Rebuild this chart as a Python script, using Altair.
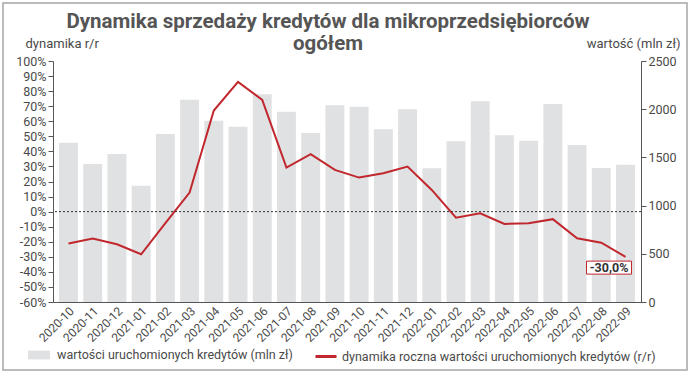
import altair as alt
import pandas as pd

months = ["2020-10", "2020-11", "2020-12", "2021-01", "2021-02", "2021-03",
          "2021-04", "2021-05", "2021-06", "2021-07", "2021-08", "2021-09",
          "2021-10", "2021-11", "2021-12", "2022-01", "2022-02", "2022-03",
          "2022-04", "2022-05", "2022-06", "2022-07", "2022-08", "2022-09"]
values = [1652, 1431, 1535, 1206, 1743, 2099, 1881, 1819, 2154, 1974, 1753, 2040,
          2026, 1791, 1999, 1387, 1667, 2082, 1729, 1673, 2054, 1629, 1390, 1424]
dynamics = [-21.2, -17.9, -21.7, -28.3, -7.7, 12.6, 67.1, 86.1, 74.2, 29.2, 38.1, 27.7,
            22.6, 25.5, 29.9, 14.4, -4.0, -1.1, -8.2, -7.7, -5.0, -17.7, -20.6, -30.0]
left_ticks = list(range(-60, 101, 10))
right_ticks = [0, 500, 1000, 1500, 2000, 2500]

bar_name = "wartości uruchomionych kredytów (mln zł)"
line_name = "dynamika roczna wartości uruchomionych kredytów (r/r)"
title_lines = ["Dynamika sprzedaży kredytów dla mikroprzedsiębiorców", "ogółem"]
left_title = "dynamika r/r"
right_title = "wartość (mln zł)"
last_label = "-30,0%"

FONT = "Roboto"
TXT = "#4a4a4a"
AX = "#555555"
BAR = "#dfe1e2"
RED = "#c1272d"

df = pd.DataFrame({"month": months, "value": values, "dyn": dynamics})
df["bar_series"] = bar_name
df["line_series"] = line_name
df_last = pd.DataFrame({"month": [months[-1]], "dyn": [dynamics[-1]], "label": [last_label]})
df_zero = pd.DataFrame({"dyn": [0]})
df_one = pd.DataFrame({"a": [0]})

x_enc = alt.X(
    "month:N", sort=months,
    scale=alt.Scale(paddingInner=0.22, paddingOuter=0.25),
    axis=alt.Axis(title=None, labelAngle=-45, ticks=False, domainColor=AX,
                  labelFontSize=12, labelColor=TXT, labelPadding=3),
)

y_left = alt.Y(
    "dyn:Q", scale=alt.Scale(domain=[-60, 100], nice=False),
    axis=alt.Axis(orient="left", values=left_ticks, labelExpr="datum.value + '%'",
                  labelOverlap=False, tickCount=17,
                  title=left_title, titleAngle=0, titleX=-28, titleY=-14,
                  titleAlign="left", titleBaseline="alphabetic"),
)

bars = alt.Chart(df).mark_bar().encode(
    x=x_enc,
    y=alt.Y("value:Q", scale=alt.Scale(domain=[0, 2500], nice=False),
            axis=alt.Axis(orient="right", values=right_ticks, format="d", title=right_title,
                          titleAngle=0, titleX=39, titleY=-14, titleAlign="right",
                          titleBaseline="alphabetic", labelOverlap=False)),
    fill=alt.Fill("bar_series:N", scale=alt.Scale(range=[BAR]),
                  legend=alt.Legend(orient="none", legendX=-25, legendY=283, title=None,
                                    symbolType="M-1,-0.4L1,-0.4L1,0.4L-1,0.4Z",
                                    symbolSize=484, symbolStrokeWidth=0,
                                    labelOffset=7, padding=0, labelFontSize=12.5,
                                    labelColor=TXT, labelFont=FONT, labelLimit=400)),
)

line = alt.Chart(df).mark_line(strokeWidth=2).encode(
    x=x_enc,
    y=y_left,
    stroke=alt.Stroke("line_series:N", scale=alt.Scale(range=[RED]),
                      legend=alt.Legend(orient="none", legendX=261, legendY=283.5, title=None,
                                        symbolType="stroke", symbolSize=441,
                                        symbolStrokeWidth=3, labelOffset=4, padding=0,
                                        labelFontSize=12.5, labelColor=TXT, labelFont=FONT,
                                        labelLimit=400)),
)

zero_rule = alt.Chart(df_zero).mark_rule(strokeDash=[2, 2], color="#333333", strokeWidth=1).encode(
    y=y_left
)

box = alt.Chart(df_last).mark_point(
    shape="M-3.9,0.43L0.6,0.43L0.6,1.73L-3.9,1.73Z", size=400, filled=True,
    fill="white", fillOpacity=1, stroke=RED, strokeWidth=1, strokeOpacity=1, opacity=1
).encode(x=x_enc, y=y_left)

box_text = alt.Chart(df_last).mark_text(
    dx=-16.5, dy=11, fontWeight="bold", fontSize=12.5, font=FONT, color="#333333",
    align="center", baseline="middle"
).encode(x=x_enc, y=y_left, text="label:N")

left_layer = alt.layer(line, zero_rule, box, box_text)

frame = alt.Chart(df_one).mark_rect(
    fillOpacity=0, stroke="#a5a5a5", strokeWidth=1.5
).encode(x=alt.value(-50), x2=alt.value(634), y=alt.value(-58), y2=alt.value(309))

title_text = alt.Chart(df_one).mark_text(
    text=title_lines, fontSize=20.5, font=FONT, fontWeight="bold", color="#555555",
    align="center", baseline="alphabetic", lineHeight=22
).encode(x=alt.value(275), y=alt.value(-33))

chart = alt.layer(bars, left_layer, frame, title_text).resolve_scale(
    y="independent"
).properties(
    width=588, height=241,
    padding={"left": 53, "top": 61, "right": 55, "bottom": 76},
    autosize=alt.AutoSizeParams(type="none"),
).configure_view(stroke=None).configure_axis(
    grid=False, labelFont=FONT, titleFont=FONT, labelFontSize=12.5, labelColor=TXT,
    titleFontSize=13, titleColor=TXT, titleFontWeight="normal", tickSize=5,
    tickColor=AX, domainColor=AX, labelPadding=2
)

chart.save("out.html", embed_options={"renderer": "svg", "actions": False})
